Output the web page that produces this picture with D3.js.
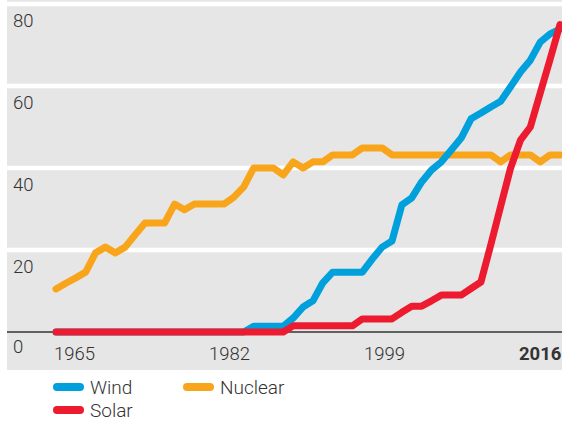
<!DOCTYPE html>
<html><head><meta charset="utf-8">
<script src="https://cdn.jsdelivr.net/npm/d3@7"></script>
<style>
html,body{margin:0;padding:0;background:#fff;}
svg text{font-family:Roboto,"Helvetica Neue",Arial,sans-serif;font-weight:300;fill:#333;}
</style></head>
<body>
<svg id="chart" width="562" height="421"></svg>
<script>
const years = [1965,1966,1967,1968,1969,1970,1971,1972,1973,1974,1975,1976,1977,1978,1979,1980,1981,1982,1983,1984,1985,1986,1987,1988,1989,1990,1991,1992,1993,1994,1995,1996,1997,1998,1999,2000,2001,2002,2003,2004,2005,2006,2007,2008,2009,2010,2011,2012,2013,2014,2015,2016];
const nuclear = [10.5,11.9,13.2,14.6,19.3,20.7,19.3,20.7,23.7,26.6,26.6,26.6,31.2,29.8,31.2,31.2,31.2,31.2,32.9,35.4,40,40,40,38.3,41.5,40,41.5,41.5,43.2,43.2,43.2,44.9,44.9,44.9,43.2,43.2,43.2,43.2,43.2,43.2,43.2,43.2,43.2,43.2,43.2,41.5,43.2,43.2,43.2,41.5,43.2,43.2];
const wind = [0,0,0,0,0,0,0,0,0,0,0,0,0,0,0,0,0,0,0,0,1.4,1.4,1.4,1.4,3.4,6.1,7.6,12,14.6,14.6,14.6,14.6,17.8,20.7,22.2,31,32.7,36.6,39.5,41.5,44.4,47.3,52,53.4,54.9,56.3,59.8,63.4,66.3,70.7,72.7,73.9];
const solar = [0,0,0,0,0,0,0,0,0,0,0,0,0,0,0,0,0,0,0,0,0,0,0,0,1.5,1.5,1.5,1.5,1.5,1.5,1.5,3.2,3.2,3.2,3.2,4.8,6.3,6.3,7.6,9.0,9.0,9.0,10.6,12.2,21.3,30.7,40,46.8,50,58.3,66.5,75];
const yTicks = [0,20,40,60,80];
const xLabels = ["1965","1982","1999","2016"];
const seriesNames = ["Nuclear","Wind","Solar"];
const seriesColors = ["#f9a51b","#00a0dc","#ed1b2f"];

const svg = d3.select("#chart");
const x = d3.scaleLinear().domain([1965,2016]).range([56,560]);
const y = d3.scaleLinear().domain([0,80]).range([332,4]);

// background panel
svg.append("rect").attr("x",7).attr("y",0).attr("width",555).attr("height",370).attr("fill","#e6e6e6");

// white gridlines
svg.selectAll("line.grid").data(yTicks.filter(d=>d>0)).enter().append("line")
  .attr("x1",7).attr("x2",562).attr("y1",d=>y(d)).attr("y2",d=>y(d))
  .attr("stroke","#fff").attr("stroke-width",4.5);

// y labels
svg.selectAll("text.ylab").data(yTicks).enter().append("text")
  .attr("x",13).attr("y",d=>y(d)+(d===0?21:22.5))
  .attr("font-size",18.5).text(d=>d);

// zero line
svg.append("line").attr("x1",7).attr("x2",562).attr("y1",y(0)).attr("y2",y(0))
  .attr("stroke","#333").attr("stroke-width",1.5);

// x labels
const xl = d3.scalePoint().domain(xLabels).range([54,519]);
svg.selectAll("text.xlab").data(xLabels).enter().append("text")
  .attr("x",d=>xl(d)).attr("y",360).attr("font-size",18.5)
  .style("font-weight",d=>d==="2016"?700:300).text(d=>d);

// lines
const data = {Nuclear:nuclear, Wind:wind, Solar:solar};
const line = d3.line().x((d,i)=>x(years[i])).y(d=>y(d));
seriesNames.forEach((n,k)=>{
  svg.append("path").datum(data[n]).attr("d",line)
    .attr("fill","none").attr("stroke",seriesColors[k]).attr("stroke-width",7)
    .attr("stroke-linejoin","round").attr("stroke-linecap","round");
});

// legend
const legend = [{n:"Wind",c:seriesColors[1],lx:57,ly:387},{n:"Nuclear",c:seriesColors[0],lx:187,ly:387},{n:"Solar",c:seriesColors[2],lx:57,ly:410}];
legend.forEach(l=>{
  svg.append("line").attr("x1",l.lx).attr("x2",l.lx+23).attr("y1",l.ly).attr("y2",l.ly)
    .attr("stroke",l.c).attr("stroke-width",8).attr("stroke-linecap","round");
  svg.append("text").attr("x",l.lx+33).attr("y",l.ly+6.5).attr("font-size",19).text(l.n);
});
</script>
</body></html>
